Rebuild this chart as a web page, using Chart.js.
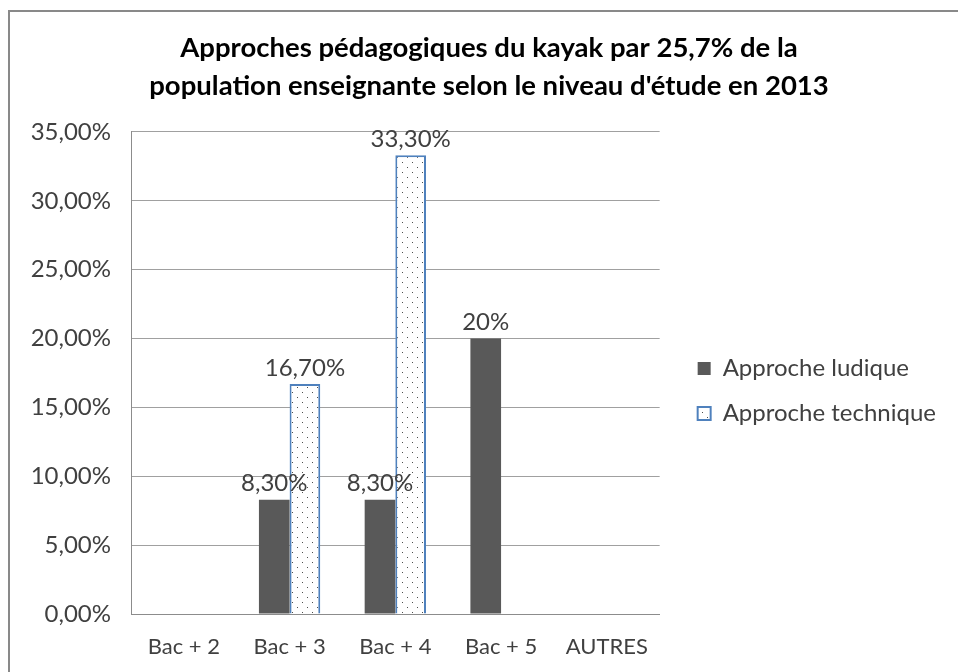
<!DOCTYPE html>
<html>
<head>
<meta charset="utf-8">
<script src="https://cdn.jsdelivr.net/npm/chart.js@4.4.1/dist/chart.umd.min.js"></script>
<style>
  html, body { margin: 0; padding: 0; background: #fff; overflow: hidden; }
  #frame { position: absolute; left: 8px; top: 10px; width: 1000px; height: 700px; border: 2px solid #898989; }
  #wrap { position: absolute; left: 0; top: 0; width: 958px; height: 672px; }
</style>
</head>
<body>
<div id="frame"></div>
<div id="wrap"><canvas id="chart"></canvas></div>
<script>
const categories = ['Bac + 2', 'Bac + 3', 'Bac + 4', 'Bac + 5', 'AUTRES'];
const ludique = [null, 8.3, 8.3, 20, null];
const technique = [null, 16.7, 33.3, null, null];
const ludiqueLabels = ['', '8,30%', '8,30%', '20%', ''];
const techniqueLabels = ['', '16,70%', '33,30%', '', ''];
const titleLines = [
  'Approches pédagogiques du kayak par 25,7% de la',
  "population enseignante selon le niveau d'étude en 2013"
];

// dotted fill for the "technique" bars
function dotPattern() {
  const c = document.createElement('canvas');
  c.width = 10; c.height = 10;
  const g = c.getContext('2d');
  g.fillStyle = '#ffffff';
  g.fillRect(0, 0, 10, 10);
  g.fillStyle = '#4d4d4d';
  g.fillRect(2, 2, 1, 1);
  g.fillRect(7, 7, 1, 1);
  return g.createPattern(c, 'repeat');
}

// value text above each bar
const barLabels = {
  id: 'barLabels',
  afterDatasetsDraw(chart) {
    const ctx = chart.ctx;
    const sets = [ludiqueLabels, techniqueLabels];
    ctx.save();
    ctx.font = '24px Lato';
    ctx.fillStyle = '#404040';
    ctx.textAlign = 'center';
    ctx.textBaseline = 'bottom';
    chart.data.datasets.forEach((ds, i) => {
      chart.getDatasetMeta(i).data.forEach((bar, j) => {
        const txt = sets[i][j];
        if (txt) ctx.fillText(txt, bar.x, bar.y - 4);
      });
    });
    ctx.restore();
  }
};

// nudge legend and title after layout
const boxShift = {
  id: 'boxShift',
  afterLayout(chart) {
    const lg = chart.legend;
    lg.left += 17; lg.right += 17;
    lg.top += 62; lg.bottom += 62;
    const tb = chart.titleBlock;
    tb.left += 9; tb.right += 9;
  }
};

function draw() {
  const ctx = document.getElementById('chart').getContext('2d');
  new Chart(ctx, {
    type: 'bar',
    data: {
      labels: categories,
      datasets: [{
        label: 'Approche ludique',
        data: ludique,
        backgroundColor: '#595959',
        borderWidth: 0
      }, {
        label: 'Approche technique',
        data: technique,
        backgroundColor: dotPattern(),
        borderColor: '#4f81bd',
        borderWidth: 2
      }]
    },
    options: {
      responsive: true,
      maintainAspectRatio: false,
      animation: false,
      layout: { padding: { left: 31, right: 29, top: 0, bottom: 14 } },
      datasets: { bar: { categoryPercentage: 0.58, barPercentage: 1 } },
      scales: {
        x: {
          grid: { display: false, drawTicks: false },
          border: { color: '#8c8c8c', width: 1 },
          ticks: { color: '#404040', font: { family: 'Lato', size: 22 }, padding: 20, maxRotation: 0 },
          afterFit(s) { s.height = 44; }
        },
        y: {
          min: 0,
          max: 35,
          grid: { color: '#a0a0a0', drawTicks: false },
          border: { color: '#8c8c8c', width: 1 },
          ticks: {
            stepSize: 5,
            color: '#404040',
            font: { family: 'Lato', size: 24 },
            padding: 20,
            callback: v => v.toFixed(2).replace('.', ',') + '%'
          },
          afterFit(s) { s.width = 100; }
        }
      },
      plugins: {
        title: {
          display: true,
          text: titleLines,
          color: '#000',
          font: { family: 'Lato', size: 27.5, weight: 'bold', lineHeight: 1.38 },
          padding: { top: 29, bottom: 27 }
        },
        legend: {
          position: 'right',
          maxWidth: 400,
          labels: {
            color: '#404040',
            font: { family: 'Lato', size: 24 },
            boxWidth: 13,
            boxHeight: 13,
            padding: 21
          }
        },
        tooltip: { enabled: false }
      }
    },
    plugins: [barLabels, boxShift]
  });
}

// make sure Lato is ready before the legend measures its text
Promise.all([
  document.fonts.load('24px Lato'),
  document.fonts.load('bold 27.5px Lato')
]).then(draw, draw);
</script>
</body>
</html>
